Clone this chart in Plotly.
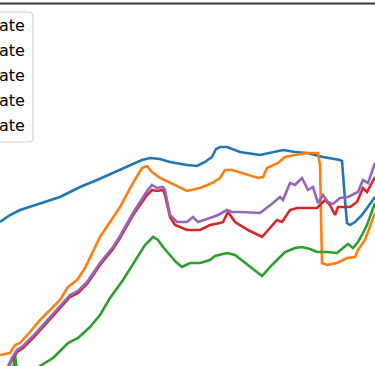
import plotly.graph_objects as go

# Series values (arbitrary units)
blue_x = [0, 10, 20, 35, 50, 60, 70, 80, 97, 113, 130, 142, 150, 160, 170, 187, 197, 205, 212, 216, 220, 227, 240, 260, 283, 295, 307, 315, 323, 340, 342, 345, 347, 350, 355, 362, 368, 375]
blue_y = [144, 151, 156, 161, 166, 169, 174, 179, 186, 193, 201, 206, 208, 207, 204, 201, 200, 204, 209, 217, 219, 219, 214, 211, 216, 214, 213, 211, 209, 206, 205, 166, 143, 141, 144, 151, 159, 169]

orange_x = [0, 10, 15, 20, 30, 40, 50, 60, 68, 77, 85, 92, 100, 110, 120, 133, 142, 147, 152, 160, 170, 187, 200, 212, 220, 225, 232, 245, 258, 263, 267, 278, 285, 295, 307, 318, 320, 322, 327, 337, 347, 355, 358, 365, 370, 375]
orange_y = [11, 13, 21, 23, 34, 46, 56, 66, 79, 86, 98, 113, 129, 144, 159, 183, 198, 200, 194, 188, 183, 175, 178, 183, 188, 196, 196, 192, 188, 189, 198, 203, 209, 211, 213, 213, 201, 103, 101, 103, 108, 109, 116, 126, 139, 153]

green_x = [5, 13, 15, 17, 25, 40, 53, 68, 78, 90, 100, 110, 123, 137, 145, 153, 158, 163, 170, 176, 182, 190, 200, 210, 215, 227, 235, 248, 262, 272, 285, 295, 302, 310, 317, 327, 337, 343, 348, 353, 358, 362, 367, 375]
green_y = [-20, -5, 11, -5, -20, 0, 8, 23, 28, 39, 51, 68, 86, 109, 121, 129, 126, 119, 111, 104, 99, 103, 103, 106, 110, 113, 111, 101, 90, 101, 114, 118, 119, 117, 114, 114, 113, 118, 122, 118, 124, 131, 141, 163]

red_x = [8, 12, 17, 23, 33, 43, 53, 62, 70, 78, 87, 100, 113, 120, 133, 147, 152, 157, 163, 165, 168, 170, 175, 187, 200, 210, 220, 223, 228, 235, 248, 262, 277, 282, 290, 297, 317, 325, 330, 335, 338, 350, 357, 363, 367, 375]
red_y = [-2, 6, 14, 18, 28, 39, 51, 61, 69, 73, 82, 101, 117, 128, 151, 171, 176, 175, 176, 171, 158, 149, 141, 136, 136, 141, 143, 144, 154, 144, 136, 129, 146, 144, 156, 158, 158, 166, 161, 151, 159, 159, 164, 178, 174, 189]

purple_x = [8, 12, 17, 23, 33, 43, 53, 62, 70, 78, 87, 100, 113, 120, 133, 147, 152, 157, 163, 165, 168, 170, 177, 187, 193, 198, 210, 218, 227, 232, 240, 260, 273, 280, 283, 290, 295, 302, 308, 313, 318, 323, 328, 333, 340, 348, 358, 363, 368, 375]
purple_y = [0, 8, 16, 20, 30, 41, 53, 63, 71, 75, 84, 103, 119, 130, 153, 175, 181, 178, 179, 176, 161, 151, 144, 144, 149, 144, 148, 151, 156, 154, 154, 153, 163, 169, 166, 183, 181, 188, 176, 179, 163, 171, 164, 162, 168, 169, 174, 186, 183, 203]

legend_labels = ["ate", "ate", "ate", "ate", "ate"]

series = [
    (blue_x, blue_y, "#1f77b4"),
    (orange_x, orange_y, "#ff7f0e"),
    (green_x, green_y, "#2ca02c"),
    (red_x, red_y, "#d62728"),
    (purple_x, purple_y, "#9467bd"),
]

fig = go.Figure()
for xs, ys, col in series:
    fig.add_trace(go.Scatter(x=xs, y=ys, mode="lines",
                             line=dict(color=col, width=2.6),
                             hoverinfo="skip", showlegend=False))

W, H = 375, 366
# top spine
fig.add_shape(type="line", xref="paper", yref="paper", x0=0, x1=1,
              y0=1 - 3.5 / H, y1=1 - 3.5 / H,
              line=dict(color="#3a3a3a", width=2), layer="above")
# legend box (clipped at left edge)
fig.add_shape(type="path", xref="x", yref="y",
              path="M -10,354 L 29,354 Q 33,354 33,350 L 33,228 Q 33,224 29,224 L -10,224 Z",
              fillcolor="rgba(255,255,255,0.8)", line=dict(color="#cccccc", width=1),
              layer="above")
for i, lab in enumerate(legend_labels):
    fig.add_annotation(x=26.5, y=341 - 25 * i, xref="x", yref="y", text=lab,
                       showarrow=False, xanchor="right", yanchor="middle",
                       font=dict(family="DejaVu Sans", size=16, color="#000000"))

fig.update_layout(width=W, height=H, margin=dict(l=0, r=0, t=0, b=0),
                  plot_bgcolor="white", paper_bgcolor="white", showlegend=False)
fig.update_xaxes(range=[0, 375], visible=False)
fig.update_yaxes(range=[0, 366], visible=False)
fig.write_html("out.html", config={"displayModeBar": False},
               post_script="document.body.style.margin='0';document.body.style.overflow='hidden';")
